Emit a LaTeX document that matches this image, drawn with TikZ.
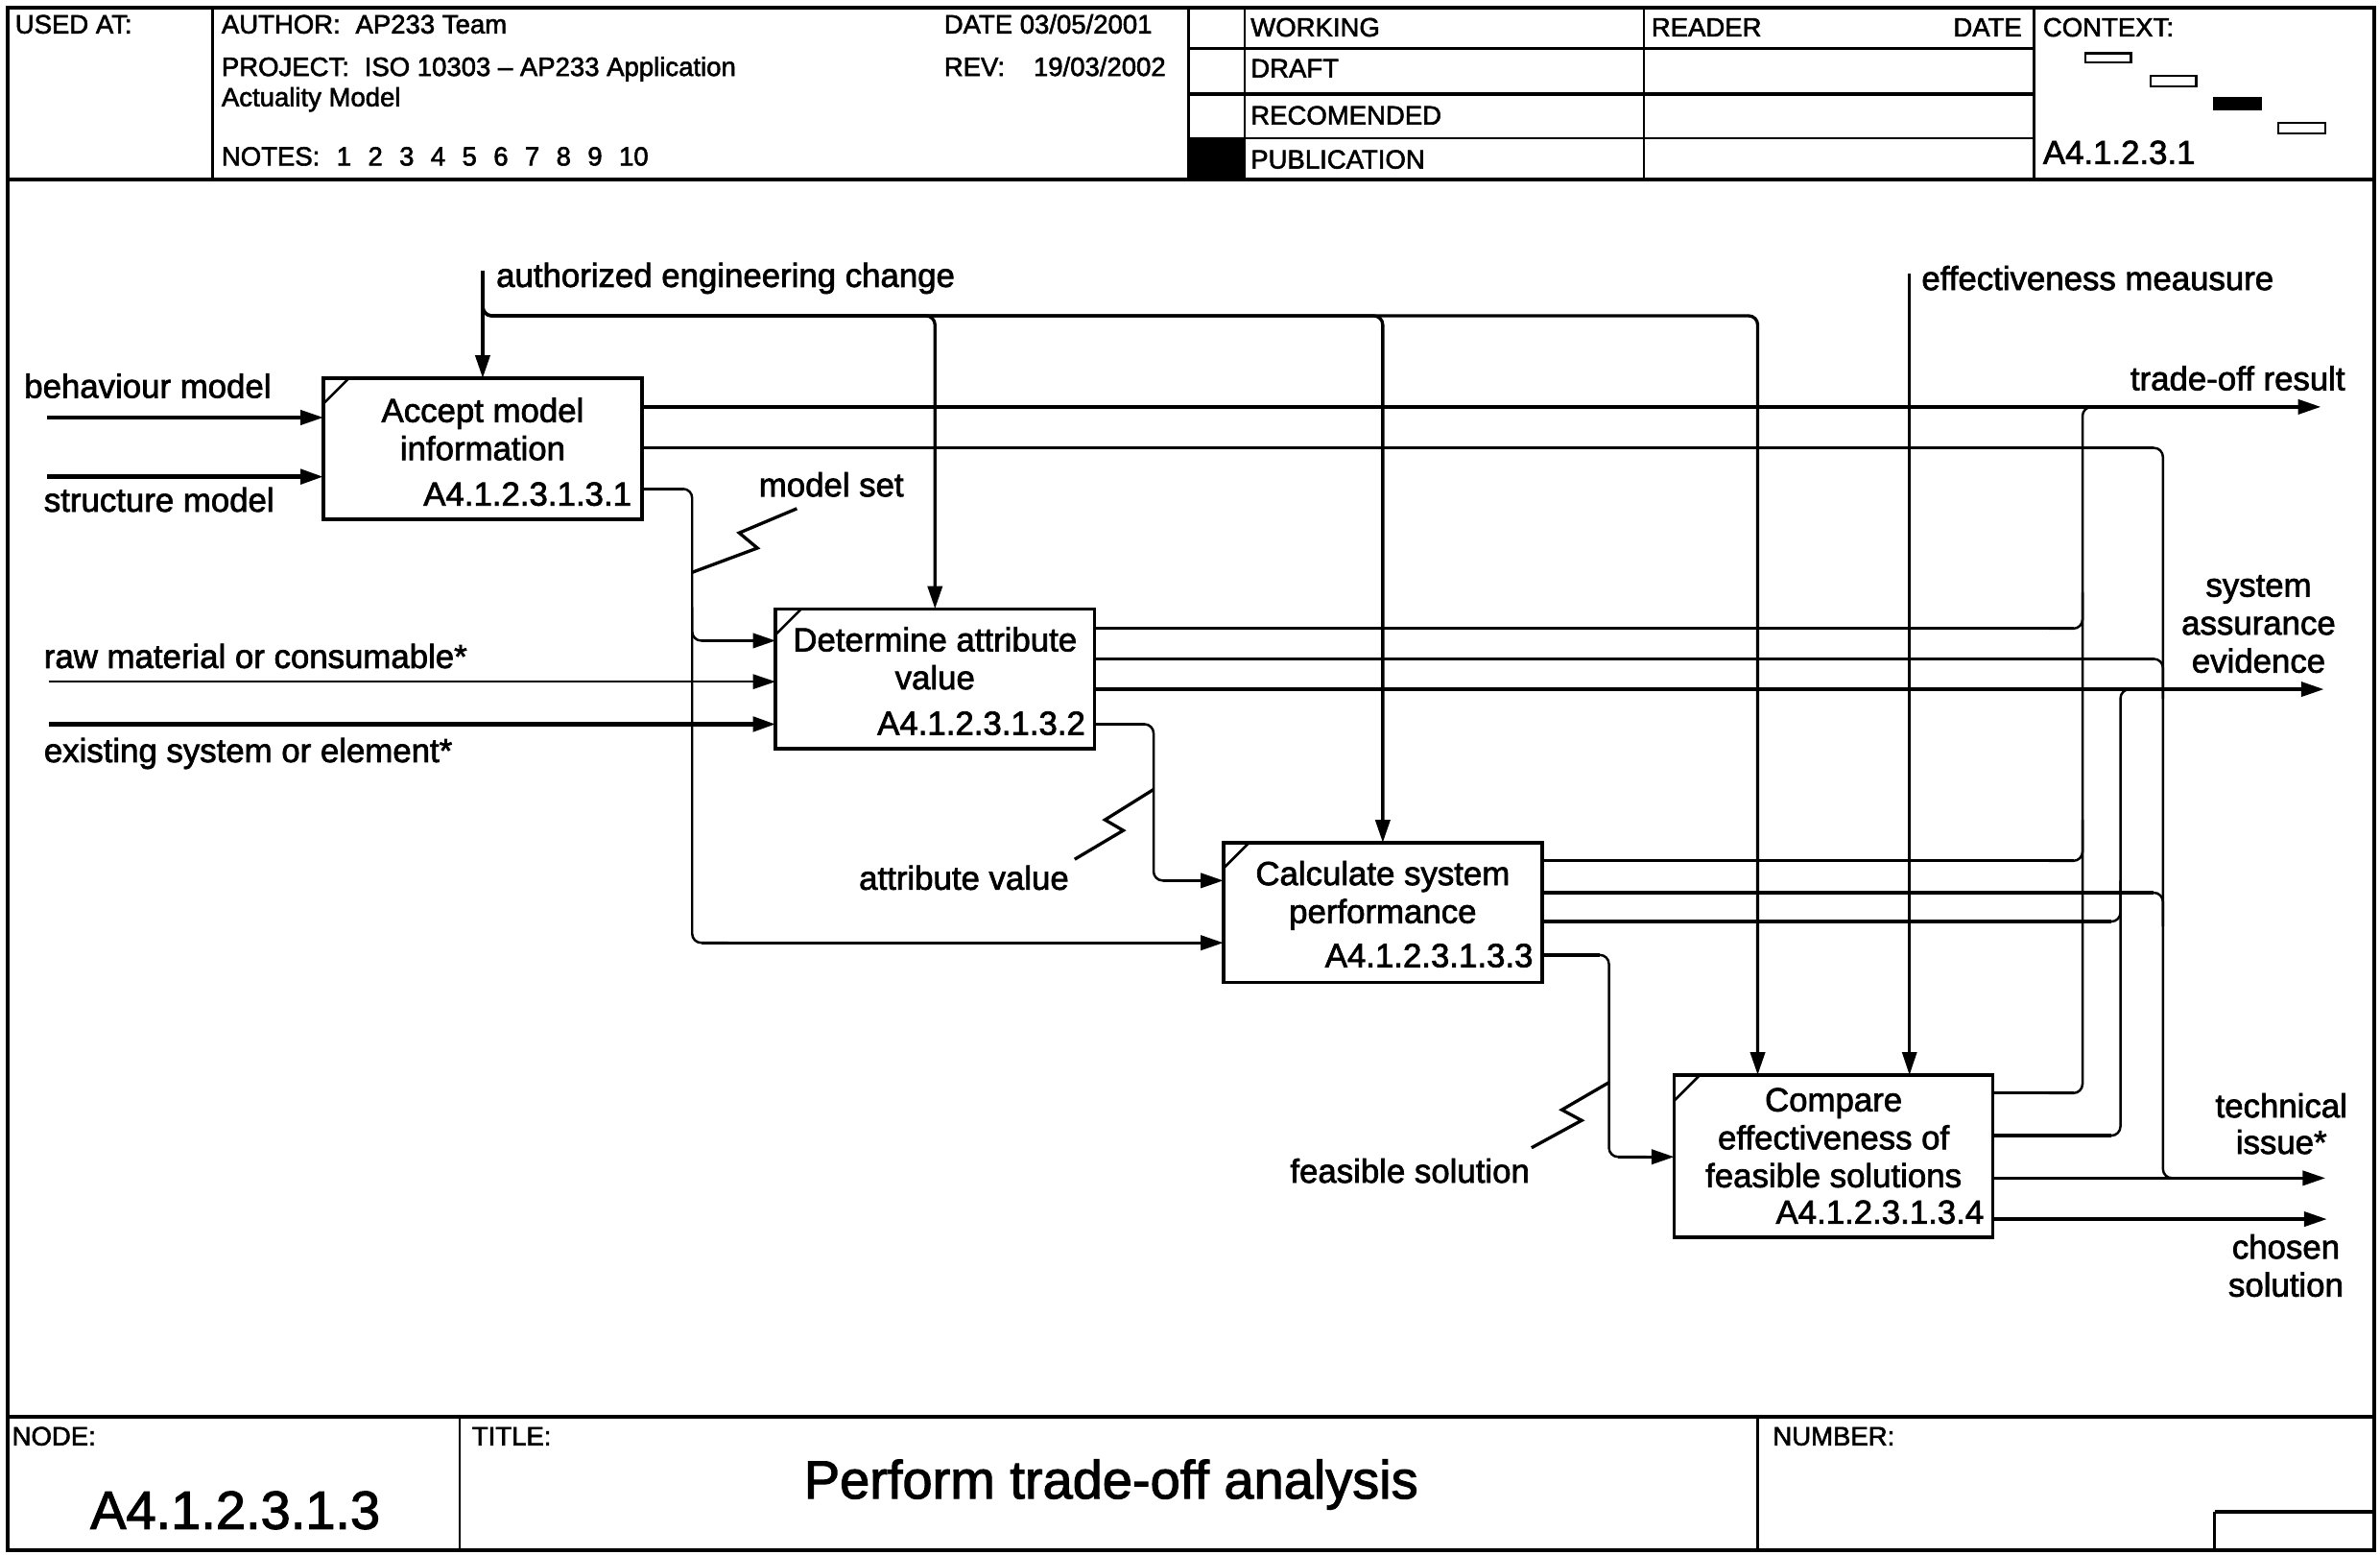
\documentclass[tikz,border=0pt]{standalone}
\usepackage{fontspec}
\setmainfont{Liberation Sans}[FakeBold=2]
\usetikzlibrary{arrows.meta}
\begin{document}
\begin{tikzpicture}[x=0.5pt,y=-0.5pt,
  frm/.style={line width=1.2pt},
  thk/.style={line width=1.05pt},
  thn/.style={line width=0.78pt},
  arr/.style={-{Triangle[length=7.5pt,width=4.8pt]}},
  rc/.style={rounded corners=3pt},
  box/.style={draw,line width=1.1pt,rectangle,inner sep=0pt,outer sep=0pt,minimum width=105pt},
  txt/.style={font=\fontsize{11pt}{12.5pt}\selectfont,inner sep=0pt,outer sep=0pt},
  hdr/.style={font=\fontsize{8.7pt}{10.5pt}\selectfont,inner sep=0pt,outer sep=0pt,anchor=base west},
  big/.style={font=\fontsize{17.7pt}{20pt}\selectfont,inner sep=0pt,outer sep=0pt,anchor=base}]
\useasboundingbox (0,0) rectangle (1568,1024);
% ---------- frame ----------
\draw[frm] (5,5) rectangle (1564,1021);
\draw[frm] (5,118) -- (1564,118);
\draw[frm] (5,933) -- (1564,933);
\draw[thn] (140,5) -- (140,118);
\draw[thn] (783,5) -- (783,118);
\draw[thn] (820,5) -- (820,118);
\draw[thn] (1083,5) -- (1083,118);
\draw[thn] (1340,5) -- (1340,118);
\draw[thn] (783,32) -- (1340,32);
\draw[frm] (783,62) -- (1340,62);
\draw[thn] (783,91) -- (1340,91);
\fill (783,91) rectangle (820,118);
% context marks
\draw[thn] (1374,35) rectangle (1404,41);
\draw[thn] (1417,50) rectangle (1447,57);
\fill (1458,64) rectangle (1490,73);
\draw[thn] (1501,81) rectangle (1532,88);
% header texts
\node[hdr] (usedat) at (10,22) {USED AT:};
\node[hdr] (author) at (146,22) {AUTHOR:\hspace{5pt}AP233 Team};
\node[hdr] (project) at (146,50) {PROJECT:\hspace{5pt}ISO 10303 – AP233 Application};
\node[hdr] (actual) at (146,70) {Actuality Model};
\node[hdr] (notes) at (146,109) {NOTES:\hspace{5.5pt}1\hspace{5.5pt}2\hspace{5.5pt}3\hspace{5.5pt}4\hspace{5.5pt}5\hspace{5.5pt}6\hspace{5.5pt}7\hspace{5.5pt}8\hspace{5.5pt}9\hspace{5.5pt}10};
\node[hdr] (date) at (622,22) {DATE 03/05/2001};
\node[hdr] (rev) at (622,50) {REV:};
\node[hdr,anchor=base east] (revd) at (768,50) {19/03/2002};
\node[hdr] (working) at (824,24) {WORKING};
\node[hdr] (draft) at (824,51) {DRAFT};
\node[hdr] (recom) at (824,82) {RECOMENDED};
\node[hdr] (publ) at (824,111) {PUBLICATION};
\node[hdr] (reader) at (1088,24) {READER};
\node[hdr,anchor=base east] (rdate) at (1332,24) {DATE};
\node[hdr] (context) at (1346,24) {CONTEXT:};
\node[txt,anchor=base west] (ctxid) at (1346,108) {A4.1.2.3.1};
% footer
\draw[thn] (303,933) -- (303,1021);
\draw[thn] (1158,933) -- (1158,1021);
\draw[frm] (1459,996) -- (1564,996);
\draw[thn] (1459,996) -- (1459,1021);
\node[hdr] (nodelbl) at (8,952) {NODE:};
\node[hdr] (titlelbl) at (311,952) {TITLE:};
\node[hdr] (numlbl) at (1168,952) {NUMBER:};
\node[big] (nodeid) at (155,1007) {A4.1.2.3.1.3};
\node[big] (title) at (732,987) {Perform trade-off analysis};
% ---------- boxes ----------
\node[box,minimum height=46.5pt] (b1) at (318,295.5) {};
\node[box,minimum height=46pt] (b2) at (616,447) {};
\node[box,minimum height=46pt] (b3) at (911,601) {};
\node[box,minimum height=53.5pt] (b4) at (1208,761.5) {};
\foreach \b in {b1,b2,b3,b4}
  \draw[line width=0.8pt] ([yshift=-8.5pt]\b.north west) -- ([xshift=8.5pt]\b.north west);
\node[txt,anchor=base] (b1t1) at (318,278) {Accept model};
\node[txt,anchor=base] (b1t2) at (318,303) {information};
\node[txt,anchor=base east] (b1id) at (416,333) {A4.1.2.3.1.3.1};
\node[txt,anchor=base] (b2t1) at (616,429) {Determine attribute};
\node[txt,anchor=base] (b2t2) at (616,454) {value};
\node[txt,anchor=base east] (b2id) at (715,484) {A4.1.2.3.1.3.2};
\node[txt,anchor=base] (b3t1) at (911,583) {Calculate system};
\node[txt,anchor=base] (b3t2) at (911,608) {performance};
\node[txt,anchor=base east] (b3id) at (1010,637) {A4.1.2.3.1.3.3};
\node[txt,anchor=base] (b4t1) at (1208,732) {Compare};
\node[txt,anchor=base] (b4t2) at (1208,757) {effectiveness of};
\node[txt,anchor=base] (b4t3) at (1208,782) {feasible solutions};
\node[txt,anchor=base east] (b4id) at (1307,806) {A4.1.2.3.1.3.4};
% ---------- inputs ----------
\node[txt,anchor=base west] (lbeh) at (16,262) {behaviour model};
\draw[thk,arr] (31,275) -- (b1.west|-0,275);
\node[txt,anchor=base west] (lstr) at (29,337) {structure model};
\draw[line width=1.4pt,arr] (31,314) -- (b1.west|-0,314);
\node[txt,anchor=base west] (lraw) at (29,440) {raw material or consumable*};
\draw[thn,arr] (32,449) -- (b2.west|-0,449);
\node[txt,anchor=base west] (lexi) at (29,502) {existing system or element*};
\draw[line width=1.4pt,arr] (32,477) -- (b2.west|-0,477);
% ---------- controls ----------
\node[txt,anchor=base west] (lctl) at (327,189) {authorized engineering change};
\draw[thk,arr] (318,178) -- (b1.north);
\draw[thk,arr,rc] (318,195) -- (318,208) -- (616,208) -- (b2.north);
\draw[thk,arr,rc] (318,195) -- (318,208) -- (911,208) -- (b3.north);
\draw[thk,arr,rc] (318,195) -- (318,208) -- (1158,208) -- (b4.north -| 1158,0);
\node[txt,anchor=base west] (leff) at (1266,191) {effectiveness meausure};
\draw[thn,arr] (1258,180) -- (b4.north -| 1258,0);
% ---------- model set ----------
\draw[thn,rc] (b1.east|-0,322) -- (456,322) -- (456,621) -- (480,621);
\draw[thn,rc] (456,400) -- (456,422) -- (480,422);
\draw[thk] (b1.east|-0,322) -- (450,322);
\draw[thk,arr] (462,422) -- (b2.west|-0,422);
\draw[thk,arr] (462,621) -- (b3.west|-0,621);
\draw[thk] (456,377) -- (499,361) -- (487,351) -- (525,335);
\node[txt,anchor=base west] (lms) at (500,327) {model set};
% ---------- attribute value ----------
\draw[thn,rc] (b2.east|-0,477) -- (760,477) -- (760,580) -- (785,580);
\draw[thk] (b2.east|-0,477) -- (754,477);
\draw[thk,arr] (766,580) -- (b3.west|-0,580);
\draw[thk] (760,520) -- (728,540) -- (740,547) -- (708,566);
\node[txt,anchor=base west] (lav) at (566,586) {attribute value};
% ---------- feasible solution ----------
\draw[thn,rc] (b3.east|-0,629) -- (1060,629) -- (1060,762) -- (1085,762);
\draw[thk] (b3.east|-0,629) -- (1054,629);
\draw[thk,arr] (1066,762) -- (b4.west|-0,762);
\draw[thk] (1060,713) -- (1029,731) -- (1042,738) -- (1009,756);
\node[txt,anchor=base west] (lfs) at (850,779) {feasible solution};
% ---------- trade-off result (x=1372) ----------
\draw[thk,arr] (b1.east|-0,268) -- (1529,268);
\node[txt,anchor=base east] (ltor) at (1545,257) {trade-off result};
\draw[thn,rc] (1350,720) -- (1372,720) -- (1372,268) -- (1395,268);
\draw[thn,rc] (1350,567) -- (1372,567) -- (1372,540);
\draw[thn,rc] (1350,414) -- (1372,414) -- (1372,390);
\draw[thk] (b2.east|-0,414) -- (1366,414);
\draw[thk] (b3.east|-0,567) -- (1366,567);
\draw[thk] (b4.east|-0,720) -- (1366,720);
% ---------- system assurance evidence (x=1397) ----------
\draw[thk,arr] (b2.east|-0,454) -- (1531,454);
\node[txt,anchor=base] (lsa1) at (1488,393) {system};
\node[txt,anchor=base] (lsa2) at (1488,418) {assurance};
\node[txt,anchor=base] (lsa3) at (1488,443) {evidence};
\draw[thn,rc] (1375,748) -- (1397,748) -- (1397,454) -- (1420,454);
\draw[thn,rc] (1375,607) -- (1397,607) -- (1397,580);
\draw[thk] (b3.east|-0,607) -- (1391,607);
\draw[thk] (b4.east|-0,748) -- (1391,748);
% ---------- technical issue (x=1425) ----------
\draw[thn,rc] (1400,295) -- (1425,295) -- (1425,776) -- (1450,776);
\draw[thn,rc] (1400,434) -- (1425,434) -- (1425,460);
\draw[thn,rc] (1400,588) -- (1425,588) -- (1425,610);
\draw[thk] (b1.east|-0,295) -- (1419,295);
\draw[thk] (b2.east|-0,434) -- (1419,434);
\draw[thk] (b3.east|-0,588) -- (1419,588);
\draw[thk,arr] (b4.east|-0,776) -- (1532,776);
\node[txt,anchor=base] (lti1) at (1503,736) {technical};
\node[txt,anchor=base] (lti2) at (1503,760) {issue*};
% ---------- chosen solution ----------
\draw[thk,arr] (b4.east|-0,803) -- (1533,803);
\node[txt,anchor=base] (lcs1) at (1506,829) {chosen};
\node[txt,anchor=base] (lcs2) at (1506,854) {solution};
\end{tikzpicture}
\end{document}
